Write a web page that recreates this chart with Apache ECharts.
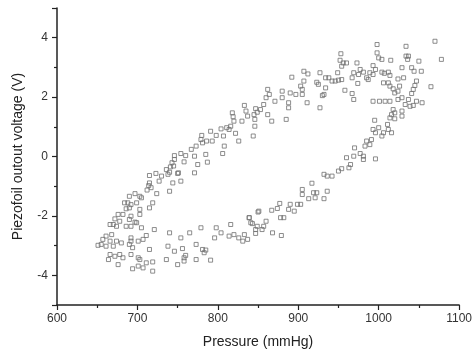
<!DOCTYPE html>
<html>
<head>
<meta charset="utf-8">
<script src="https://cdn.jsdelivr.net/npm/echarts@6/dist/echarts.min.js"></script>
<style>
  html, body { margin: 0; padding: 0; background: #fff; }
  #chart { width: 475px; height: 356px; }
</style>
</head>
<body>
<div id="chart"></div>
<script>
// [pressure (mmHg), voltage (V)], grouped by region of the loop
const loopLeft = [
  [715,-0.64],[723,-0.57],[730,-0.66],[740,-0.53],[750,-0.57],[771,-0.55],[715,-0.89],[714,-0.98],
  [717,-1.05],[712,-1.13],[727,-0.83],[744,-0.89],[754,-0.83],[740,-1.17],[690,-1.34],[697,-1.25],
  [703,-1.34],[705,-1.39],[688,-1.56],[692,-1.62],[684,-1.56],[699,-1.56],[690,-1.73],[686,-1.76],
  [703,-1.78],[715,-1.73],[719,-1.56],[724,-1.25],[676,-1.95],[682,-1.95],[692,-2.01],[703,-1.95],
  [690,-2.12],[697,-2.21],[678,-2.18],[672,-2.10],[670,-2.29],[666,-2.29],[674,-2.35],[686,-2.35],
  [692,-2.35],[699,-2.23],[705,-2.40],[721,-2.46],[668,-2.63],[661,-2.68],[657,-2.79],[666,-2.85],
  [674,-2.85],[680,-2.91],[655,-2.96],[661,-3.02],[670,-3.02],[651,-2.99],[692,-2.74],[692,-2.85],
  [690,-2.96],[701,-2.85],[707,-2.79],[711,-2.66],[694,-3.07],[715,-3.13],[664,-3.47],[676,-3.64],
  [666,-3.30],[672,-3.36],[678,-3.30],[682,-3.41],[692,-3.30],[701,-3.41],[703,-3.47],[694,-3.78],
  [701,-3.69],[707,-3.75],[711,-3.58],[719,-3.55],[719,-3.86]
];
const loopBottom = [
  [738,-3.02],[740,-2.57],[754,-2.74],[765,-2.57],[779,-2.40],[798,-2.40],[816,-2.29],[804,-2.57],
  [796,-2.74],[814,-2.68],[820,-2.63],[826,-2.74],[833,-2.63],[831,-2.85],[837,-2.79],[841,-2.23],
  [847,-2.46],[850,-1.87],[839,-2.06],[746,-3.19],[756,-3.10],[773,-2.96],[781,-3.13],[785,-3.15],
  [783,-3.24],[760,-3.33],[758,-3.41],[773,-3.47],[791,-3.49],[736,-3.47],[750,-3.64],[758,-3.52]
];
const rising = [
  [892,2.67],[897,2.09],[890,2.14],[880,2.20],[880,1.98],[888,1.81],[888,1.64],[885,1.25],
  [871,1.86],[862,2.26],[864,2.09],[860,1.98],[857,1.75],[853,1.58],[847,1.61],[849,1.49],
  [845,1.41],[846,1.25],[846,1.02],[862,1.41],[867,1.19],[833,1.72],[835,1.53],[837,1.36],
  [830,1.19],[818,1.47],[819,1.34],[820,1.19],[816,1.02],[811,0.97],[814,0.91],[822,0.78],
  [826,0.52],[844,0.69],[804,0.93],[807,0.69],[798,0.71],[791,0.85],[780,0.71],[779,0.57],
  [781,0.46],[786,0.52],[793,0.52],[808,0.35],[806,0.10],[785,0.07],[773,0.35],[767,0.24],
  [760,0.03],[754,0.10],[771,0.01],[775,-0.27],[787,-0.19],[758,-0.18],[746,0.03],[746,-0.10],
  [743,-0.21],[741,-0.35],[745,-0.32],[736,-0.44],[738,-0.60],[751,-0.55]
];
const topRight = [
  [998,3.77],[1034,3.71],[1070,3.88],[1078,3.27],[953,3.46],[952,3.24],[956,3.15],[960,3.15],
  [954,3.04],[973,3.15],[998,3.49],[1000,3.32],[1004,3.27],[1015,3.24],[1034,3.38],[1037,3.38],
  [1036,3.27],[1050,3.21],[993,3.06],[996,2.93],[977,2.93],[981,2.84],[969,2.82],[967,2.65],
  [974,2.46],[985,2.65],[987,2.59],[989,2.82],[1004,2.84],[1007,2.80],[1012,2.84],[1014,2.73],
  [1006,2.48],[1012,2.48],[1014,2.37],[1024,2.61],[1031,2.65],[1026,2.37],[1029,2.99],[1041,2.99],
  [1044,2.87],[1053,2.87],[1047,2.54],[1045,2.39],[1043,2.26],[1041,2.12],[1037,1.92],[1043,1.72],
  [1047,1.86],[1054,1.81],[1065,2.35],[1024,2.20],[1020,2.14],[1018,2.28],[1029,1.98],[1024,1.92],
  [1033,1.75],[1039,1.69],[1014,1.86],[1008,1.86],[1001,1.86],[993,1.86],[969,1.92],[967,2.12],
  [958,2.23],[932,2.09],[930,2.05],[927,1.64],[911,1.81],[905,2.09],[905,2.26],[903,2.37],
  [907,2.54],[907,2.87],[912,2.78],[927,2.82],[934,2.65],[938,2.65],[942,2.54],[946,2.54],
  [950,2.57],[954,2.59],[949,2.82],[923,2.50],[925,2.43],[934,2.31],[975,2.76],[993,2.76]
];
const falling = [
  [1018,1.58],[1016,1.41],[1020,1.47],[1014,1.30],[1020,1.27],[1029,1.36],[1029,1.53],[995,1.22],
  [1011,1.08],[1000,0.97],[993,0.91],[996,0.80],[1006,0.80],[1004,0.69],[1012,0.91],[1016,0.80],
  [991,0.57],[985,0.52],[989,0.40],[983,0.35],[970,0.29],[977,0.10],[981,0.01],[969,0.01],
  [960,-0.04],[981,-0.10],[996,-0.08],[965,-0.27],[963,-0.38],[954,-0.41],[950,-0.49],[942,-0.66],
  [936,-0.66],[932,-0.60],[905,-1.11],[905,-1.28],[917,-0.90],[919,-1.22],[923,-1.22],[921,-1.39],
  [913,-1.42],[932,-1.42],[936,-1.17],[877,-1.58],[874,-1.75],[867,-1.81],[890,-1.61],[899,-1.61],
  [903,-1.61],[888,-1.78],[895,-1.84],[878,-2.06],[882,-2.06],[851,-1.84],[860,-2.18],[843,-2.26],
  [849,-2.35],[857,-2.35],[855,-2.46],[847,-2.59],[868,-2.57],[879,-2.66],[839,-2.06]
];

const xTicks = { min: 600, max: 1100, step: 100 };
const yTicks = { min: -5, max: 5 };

const points = loopLeft.concat(loopBottom, rising, topRight, falling);

const axisColor = "#222";
const font = "'Liberation Sans', Arial, sans-serif";

const chart = echarts.init(document.getElementById("chart"), null, { renderer: "canvas" });
chart.setOption({
  animation: false,
  backgroundColor: "#fff",
  grid: { left: 57, right: 14, top: 8, bottom: 51 },
  xAxis: {
    type: "value",
    min: xTicks.min,
    max: xTicks.max,
    interval: xTicks.step,
    name: "Pressure (mmHg)",
    nameLocation: "middle",
    nameGap: 30,
    nameTextStyle: { fontFamily: font, fontSize: 14, color: "#222" },
    axisLine: { onZero: false, lineStyle: { color: axisColor, width: 1.5 } },
    axisTick: { inside: false, length: 5, lineStyle: { color: axisColor, width: 1.2 } },
    minorTick: { show: true, splitNumber: 2, length: 3, lineStyle: { color: axisColor, width: 1.2 } },
    axisLabel: { fontFamily: font, fontSize: 12, color: "#333", margin: 8, formatter: v => String(v) },
    splitLine: { show: false }
  },
  yAxis: {
    type: "value",
    min: yTicks.min,
    max: yTicks.max,
    splitNumber: 5,
    name: "Piezofoil outout voltage (V)",
    nameLocation: "middle",
    nameGap: 32,
    nameTextStyle: { fontFamily: font, fontSize: 14, color: "#222" },
    axisLine: { onZero: false, lineStyle: { color: axisColor, width: 1.5 } },
    axisTick: { inside: false, length: 5, lineStyle: { color: axisColor, width: 1.2 } },
    minorTick: { show: true, splitNumber: 2, length: 3, lineStyle: { color: axisColor, width: 1.2 } },
    axisLabel: { fontFamily: font, fontSize: 12, color: "#333", margin: 9, showMinLabel: false, showMaxLabel: false },
    splitLine: { show: false }
  },
  series: [
    {
      type: "scatter",
      data: points,
      symbol: "rect",
      symbolSize: 4,
      itemStyle: { color: "rgba(255,255,255,0)", borderColor: "#707070", borderWidth: 1 }
    }
  ]
});
</script>
</body>
</html>
